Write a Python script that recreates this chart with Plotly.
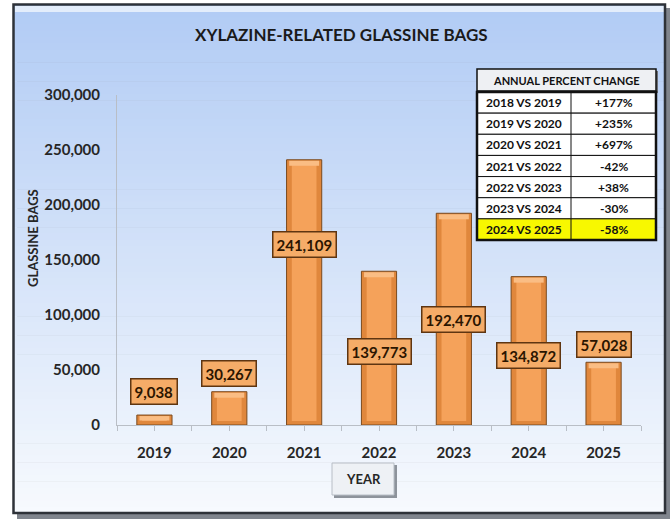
import plotly.graph_objects as go

# ---------------- data ----------------
years = ["2019", "2020", "2021", "2022", "2023", "2024", "2025"]
bags = [9038, 30267, 241109, 139773, 192470, 134872, 57028]
y_ticks = [0, 50000, 100000, 150000, 200000, 250000, 300000]
comparisons = ["2018 VS 2019", "2019 VS 2020", "2020 VS 2021", "2021 VS 2022",
               "2022 VS 2023", "2023 VS 2024", "2024 VS 2025"]
pct_change = ["+177%", "+235%", "+697%", "-42%", "+38%", "-30%", "-58%"]

# label placement (fraction of bar height where the label box is centred)
label_frac = [3.4, 1.54, 0.68, 0.48, 0.50, 0.47, 1.28]

# ---------------- layout geometry (pixels) ----------------
W, H = 671, 520
L, R, T, B = 117, 641, 95, 425
YMAX = 300000
FONT = "Lato, Carlito, 'Open Sans', sans-serif"


def px(x):
    return (x - L) / (R - L)


def py(y):
    return (B - y) / (B - T)


per_px = YMAX / (B - T)
xs = list(range(len(years)))

fig = go.Figure()

# bar body (darker edges + outline)
fig.add_trace(go.Bar(x=xs, y=bags, width=0.47,
                     marker=dict(color="#E0873C", line=dict(color="#7A4A1E", width=1)),
                     hoverinfo="skip"))
# lighter centre strip
bev = 4 * per_px
fig.add_trace(go.Bar(x=xs, y=[max(v - 2 * bev, 0) for v in bags], base=[bev] * len(bags),
                     width=0.33, marker=dict(color="#F5A25A", line=dict(width=0)),
                     hoverinfo="skip"))
# top highlight bevel
topb = 5 * per_px
fig.add_trace(go.Bar(x=xs, y=[min(topb, v * 0.45) for v in bags],
                     base=[v - min(topb, v * 0.45) - 1 * per_px for v in bags],
                     width=0.40, marker=dict(color="#FABD84", line=dict(width=0)),
                     hoverinfo="skip"))

shapes = []
# frame shadow
shapes.append(dict(type="rect", xref="paper", yref="paper", layer="below",
                   x0=px(17), x1=px(670), y0=py(8), y1=py(519),
                   fillcolor="#80858d", line=dict(width=0)))
# gradient background
top_c = (178, 204, 245)
bot_c = (247, 250, 254)
y_top, y_bot = 5, 513
n = 80
for i in range(n):
    t = i / (n - 1)
    c = tuple(int(top_c[k] + (bot_c[k] - top_c[k]) * t) for k in range(3))
    y0 = y_top + (y_bot - y_top) * i / n
    y1 = y_top + (y_bot - y_top) * (i + 1) / n + 0.6
    shapes.append(dict(type="rect", xref="paper", yref="paper", layer="below",
                       x0=px(14), x1=px(665), y0=py(y0), y1=py(y1),
                       fillcolor="rgb(%d,%d,%d)" % c, line=dict(width=0)))
# top bevel highlight
shapes.append(dict(type="rect", xref="paper", yref="paper", layer="below",
                   x0=px(15), x1=px(664), y0=py(6), y1=py(12),
                   fillcolor="rgba(235,242,252,0.85)", line=dict(width=0)))
# frame border
shapes.append(dict(type="rect", xref="paper", yref="paper", layer="below",
                   x0=px(13.5), x1=px(665), y0=py(4.5), y1=py(513),
                   fillcolor="rgba(0,0,0,0)", line=dict(color="#2e3238", width=2.5)))

# ---------------- percent-change table ----------------
tx0, tx1, tmid = 477, 656, 571
hy0, hy1 = 69, 91
ry0, ry1 = 92, 240
rh = (ry1 - ry0) / len(comparisons)
# header shadow + header
shapes.append(dict(type="rect", xref="paper", yref="paper", layer="above",
                   x0=px(tx0 + 2), x1=px(tx1 + 2), y0=py(hy0 + 2), y1=py(hy1 + 2),
                   fillcolor="#6d7075", line=dict(width=0)))
shapes.append(dict(type="rect", xref="paper", yref="paper", layer="above",
                   x0=px(tx0), x1=px(tx1), y0=py(hy0), y1=py(hy1),
                   fillcolor="#EEF0F3", line=dict(color="#111111", width=1.5)))
for i in range(len(comparisons)):
    y0 = ry0 + i * rh
    fill = "#F8F800" if i == len(comparisons) - 1 else "#FFFFFF"
    shapes.append(dict(type="rect", xref="paper", yref="paper", layer="above",
                       x0=px(tx0), x1=px(tx1), y0=py(y0), y1=py(y0 + rh),
                       fillcolor=fill, line=dict(color="#111111", width=1)))
shapes.append(dict(type="line", xref="paper", yref="paper", layer="above",
                   x0=px(tmid), x1=px(tmid), y0=py(ry0), y1=py(ry1),
                   line=dict(color="#111111", width=1)))
shapes.append(dict(type="rect", xref="paper", yref="paper", layer="above",
                   x0=px(tx0), x1=px(tx1), y0=py(ry0), y1=py(ry1),
                   fillcolor="rgba(0,0,0,0)", line=dict(color="#111111", width=2.5)))

# ---------------- YEAR box ----------------
shapes.append(dict(type="rect", xref="paper", yref="paper", layer="above",
                   x0=px(334), x1=px(397), y0=py(465), y1=py(498),
                   fillcolor="#8d939b", line=dict(width=0)))
shapes.append(dict(type="rect", xref="paper", yref="paper", layer="above",
                   x0=px(332), x1=px(394), y0=py(463), y1=py(495),
                   fillcolor="#EEF1F5", line=dict(color="#b8bec6", width=1)))


def ann(text, x, y, size, color="#111111", **kw):
    d = dict(text="<b>%s</b>" % text, xref="paper", yref="paper", x=px(x), y=py(y),
             xanchor="center", yanchor="middle", showarrow=False,
             font=dict(family=FONT, size=size, color=color))
    d.update(kw)
    return d


annotations = []
annotations.append(ann("XYLAZINE-RELATED GLASSINE BAGS", 341, 35, 17, "#1a1a1a"))
annotations.append(ann("GLASSINE BAGS", 33, 238, 13, "#262626", textangle=-90))
annotations.append(ann("YEAR", 363, 479, 13, "#262626"))
annotations.append(ann("ANNUAL PERCENT CHANGE", (tx0 + tx1) / 2, (hy0 + hy1) / 2, 11))
for i, (c, p) in enumerate(zip(comparisons, pct_change)):
    yc = ry0 + (i + 0.5) * rh
    annotations.append(ann(c, (tx0 + tmid) / 2, yc, 12))
    annotations.append(ann(p, (tmid + tx1) / 2, yc, 12))

# data labels
for x, v, f in zip(xs, bags, label_frac):
    annotations.append(dict(text="<b>%s</b>" % f"{v:,}", x=x, y=v * f, xref="x", yref="y",
                            xanchor="center", yanchor="middle",
                            showarrow=False, bgcolor="#F5AC68", bordercolor="#5E3511",
                            borderwidth=1.5, borderpad=3,
                            font=dict(family=FONT, size=15, color="#2b1500")))

fig.update_layout(
    width=W, height=H, autosize=False,
    margin=dict(l=L, r=W - R, t=T, b=H - B, pad=0),
    paper_bgcolor="white", plot_bgcolor="rgba(0,0,0,0)",
    barmode="overlay", showlegend=False,
    shapes=shapes, annotations=annotations,
    font=dict(family=FONT),
    xaxis=dict(range=[-0.5, len(years) - 0.5], tickvals=xs, ticktext=years,
               showgrid=False, zeroline=False, showline=True, linecolor="#b9bec6", linewidth=1,
               ticks="outside", ticklen=5, tickcolor="#b9bec6",
               minor=dict(tick0=-0.5, dtick=1, ticks="outside", ticklen=5, tickcolor="#b9bec6"),
               tickfont=dict(family=FONT, size=15, color="#262626", weight="bold"),
               ticklabelstandoff=9, fixedrange=True),
    yaxis=dict(range=[0, YMAX], tickvals=y_ticks, tickformat=",",
               showgrid=False, zeroline=False, showline=True, linecolor="#b9bec6", linewidth=1,
               ticks="", tickfont=dict(family=FONT, size=15, color="#262626", weight="bold"),
               ticklabelstandoff=13, fixedrange=True),
)

fig.write_html("out.html")
